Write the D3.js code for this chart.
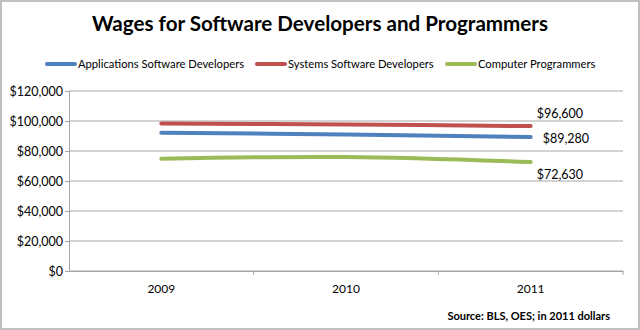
<!DOCTYPE html>
<html>
<head>
<meta charset="utf-8">
<script src="https://cdn.jsdelivr.net/npm/d3@7"></script>
<style>
  body { margin: 0; background: #fff; }
  svg { display: block; font-family: Lato, "Open Sans", sans-serif; }
</style>
</head>
<body>
<div id="vis-container"></div>
<script>
const width = 640,
      height = 330,
      margin = {
          top: 91,
          bottom: 59,
          left: 69,
          right: 17,
      };

// Chart data
var years = ["2009", "2010", "2011"];
var seriesNames = ["Applications Software Developers", "Systems Software Developers", "Computer Programmers"];
var seriesColors = ["#4f81bd", "#c0504d", "#9bbb59"];
var appsWages = [92200, 91000, 89280];
var systemsWages = [98400, 97700, 96600];
var programmerWages = [74800, 76000, 72630];
var yTicks = [0, 20000, 40000, 60000, 80000, 100000, 120000];

var allSeries = [appsWages, systemsWages, programmerWages];

var svg = d3.select("#vis-container").append("svg")
    .attr("width", width)
    .attr("height", height);

// outer frame
svg.append("rect")
    .attr("x", 1).attr("y", 1)
    .attr("width", width - 2).attr("height", height - 2)
    .attr("fill", "#fff")
    .attr("stroke", "#c0c0c0")
    .attr("stroke-width", 2);

// ******* Scales *******
var x = d3.scaleBand().domain(years).range([margin.left, width - margin.right]);
var y = d3.scaleLinear().domain([0, 120000]).range([height - margin.bottom, margin.top]);

// gridlines
svg.append("g")
    .selectAll("line")
    .data(yTicks)
    .enter()
    .append("line")
    .attr("x1", margin.left)
    .attr("x2", width - margin.right)
    .attr("y1", function(d) {return y(d);})
    .attr("y2", function(d) {return y(d);})
    .attr("stroke", "#a6a6a6")
    .attr("stroke-width", 1);

// y axis
var yAxis = svg.append("g")
    .attr("transform", `translate(${margin.left} 0)`)
    .call(d3.axisLeft(y).tickValues(yTicks).tickSize(4).tickFormat(function(d) {return "$" + d3.format(",")(d);}));
yAxis.select(".domain").attr("stroke", "#a6a6a6");
yAxis.selectAll(".tick line").attr("stroke", "#a6a6a6");
yAxis.selectAll("text")
    .attr("x", -6)
    .attr("fill", "#000")
    .style("font-size", "12.5px")
    .style("font-family", "Lato, sans-serif");

// x axis
var xAxis = svg.append("g")
    .attr("transform", `translate(0 ${height - margin.bottom})`)
    .call(d3.axisBottom(x).tickSize(0));
xAxis.select(".domain").attr("stroke", "#a6a6a6");
xAxis.selectAll("text")
    .attr("y", 13)
    .attr("fill", "#000")
    .style("font-size", "12px")
    .style("font-family", "Lato, sans-serif");
// category boundary ticks
svg.append("g")
    .selectAll("line")
    .data(years)
    .enter()
    .append("line")
    .attr("x1", function(d) {return x(d) + x.bandwidth();})
    .attr("x2", function(d) {return x(d) + x.bandwidth();})
    .attr("y1", height - margin.bottom)
    .attr("y2", height - margin.bottom + 4)
    .attr("stroke", "#a6a6a6");

// lines
var line = d3.line()
    .x(function(d, i) {return x(years[i]) + x.bandwidth() / 2;})
    .y(function(d) {return y(d);})
    .curve(d3.curveCatmullRom);

svg.append("g")
    .selectAll("path")
    .data(allSeries)
    .enter()
    .append("path")
    .attr("d", line)
    .attr("fill", "none")
    .attr("stroke", function(d, i) {return seriesColors[i];})
    .attr("stroke-width", 4)
    .attr("stroke-linecap", "round");

// end labels
var labelOffsets = [[12, 6], [6, -8], [6, 17]];
svg.append("g")
    .selectAll("text")
    .data(allSeries)
    .enter()
    .append("text")
    .attr("x", function(d, i) {return x(years[2]) + x.bandwidth() / 2 + labelOffsets[i][0];})
    .attr("y", function(d, i) {return y(d[2]) + labelOffsets[i][1];})
    .style("font-size", "12.5px")
    .text(function(d) {return "$" + d3.format(",")(d[2]);});

// title
svg.append("text")
    .attr("x", 320)
    .attr("y", 31)
    .attr("text-anchor", "middle")
    .style("font-size", "20.6px")
    .style("font-weight", "bold")
    .text("Wages for Software Developers and Programmers");

// legend
var legendX = [47, 257, 447];
var legend = svg.append("g")
    .selectAll("g")
    .data(seriesNames)
    .enter()
    .append("g")
    .attr("transform", function(d, i) {return `translate(${legendX[i]} 64)`;});
legend.append("line")
    .attr("x1", 0).attr("x2", 28)
    .attr("stroke", function(d, i) {return seriesColors[i];})
    .attr("stroke-width", 4)
    .attr("stroke-linecap", "round");
legend.append("text")
    .attr("x", 31)
    .attr("y", 4)
    .style("font-size", "11.2px")
    .text(function(d) {return d;});

// source note
svg.append("text")
    .attr("x", 610)
    .attr("y", 320)
    .attr("text-anchor", "end")
    .style("font-size", "11px")
    .style("font-weight", "bold")
    .text("Source: BLS, OES; in 2011 dollars");
</script>
</body>
</html>
